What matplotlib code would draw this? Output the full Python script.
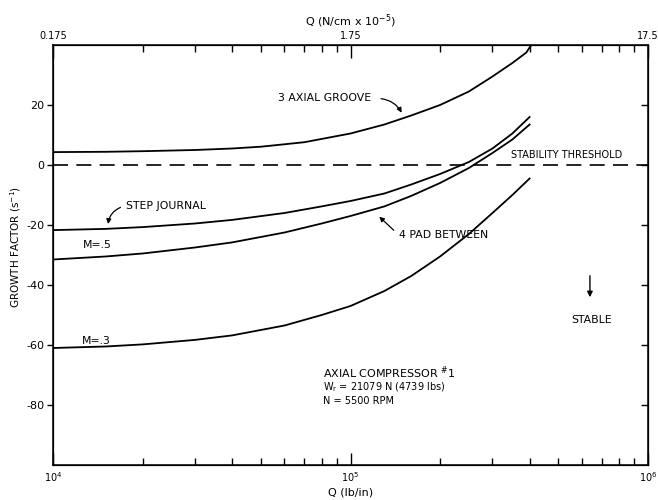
import matplotlib
matplotlib.use("Agg")
import matplotlib.pyplot as plt
from matplotlib.ticker import LogLocator, FixedLocator, NullFormatter, FixedFormatter

# ---- data ----
q_axial = [1.0e4, 1.5e4, 2.0e4, 3.0e4, 4.0e4, 5.0e4, 7.0e4, 1.0e5, 1.3e5, 1.6e5, 2.0e5, 2.5e5, 3.0e5, 3.5e5, 3.9e5, 4.05e5]
g_axial = [4.3, 4.4, 4.6, 5.0, 5.5, 6.1, 7.6, 10.5, 13.5, 16.5, 20.0, 24.5, 29.5, 34.0, 37.5, 40.0]

q_step = [1.0e4, 1.5e4, 2.0e4, 3.0e4, 4.0e4, 6.0e4, 8.0e4, 1.0e5, 1.3e5, 1.6e5, 2.0e5, 2.5e5, 3.0e5, 3.5e5, 4.0e5]
g_step = [-21.7, -21.3, -20.7, -19.5, -18.3, -16.0, -13.8, -12.0, -9.5, -6.5, -3.0, 1.0, 5.5, 10.5, 16.0]

q_m5 = [1.0e4, 1.5e4, 2.0e4, 3.0e4, 4.0e4, 6.0e4, 8.0e4, 1.0e5, 1.3e5, 1.6e5, 2.0e5, 2.5e5, 3.0e5, 3.5e5, 4.0e5]
g_m5 = [-31.5, -30.5, -29.5, -27.5, -25.8, -22.5, -19.5, -17.0, -13.8, -10.3, -6.0, -1.0, 4.0, 8.5, 13.5]

q_m3 = [1.0e4, 1.5e4, 2.0e4, 3.0e4, 4.0e4, 6.0e4, 8.0e4, 1.0e5, 1.3e5, 1.6e5, 2.0e5, 2.5e5, 3.0e5, 3.5e5, 4.0e5]
g_m3 = [-61.0, -60.5, -59.8, -58.3, -56.8, -53.5, -50.0, -47.0, -42.0, -37.0, -30.5, -23.0, -16.0, -10.0, -4.5]

threshold = 0
y_ticks = [-80, -60, -40, -20, 0, 20]
x_major = [1e4, 1e5, 1e6]
x_major_labels = ["10$^4$", "10$^5$", "10$^6$"]
top_labels = ["0.175", "1.75", "17.5"]

plt.rcParams['font.family'] = ['DejaVu Sans']
plt.rcParams['axes.unicode_minus'] = False
fig = plt.figure(figsize=(6.58, 5.0), dpi=100)
ax = fig.add_axes([53/658, 35/500, (648-53)/658, (465-45)/500])

lw = 1.3
ax.plot(q_axial, g_axial, color='black', lw=lw)
ax.plot(q_step, g_step, color='black', lw=lw)
ax.plot(q_m5, g_m5, color='black', lw=lw)
ax.plot(q_m3, g_m3, color='black', lw=lw)
ax.axhline(threshold, color='black', lw=1.2, dashes=(9, 5))

ax.set_xscale('log')
ax.set_xlim(1e4, 1e6)
ax.set_ylim(-100, 40)

# bottom axis
ax.xaxis.set_major_locator(FixedLocator(x_major))
ax.xaxis.set_major_formatter(FixedFormatter(x_major_labels))
ax.xaxis.set_minor_locator(LogLocator(base=10, subs=[2, 3, 4, 5, 6, 7, 8, 9]))
ax.xaxis.set_minor_formatter(NullFormatter())
ax.tick_params(axis='x', which='major', direction='in', length=9, width=1, labelsize=7, pad=4)
ax.tick_params(axis='x', which='minor', direction='in', length=5, width=1)
ax.set_yticks(y_ticks)
ax.tick_params(axis='y', which='major', direction='out', length=4, width=1, labelsize=8, pad=2)
for s in ax.spines.values():
    s.set_linewidth(1.1)

# top axis
axt = ax.twiny()
axt.set_xscale('log')
axt.set_xlim(1e4, 1e6)
axt.xaxis.set_major_locator(FixedLocator(x_major))
axt.xaxis.set_major_formatter(FixedFormatter(top_labels))
axt.xaxis.set_minor_locator(LogLocator(base=10, subs=[2, 3, 4, 5, 6, 7, 8, 9]))
axt.xaxis.set_minor_formatter(NullFormatter())
axt.tick_params(axis='x', which='major', direction='in', length=9, width=1, labelsize=7, pad=3)
axt.tick_params(axis='x', which='minor', direction='in', length=5, width=1)
axt.set_xlabel("Q (N/cm x 10$^{-5}$)", fontsize=8, labelpad=4)

# right axis ticks
axr = ax.twinx()
axr.set_ylim(-100, 40)
axr.set_yticks(y_ticks)
axr.tick_params(axis='y', direction='in', length=5, width=1, labelright=False)

ax.set_xlabel("Q (lb/in)", fontsize=8, labelpad=2)
ax.set_ylabel("GROWTH FACTOR (s$^{-1}$)", fontsize=7.5, labelpad=2)
ax.yaxis.set_label_coords(-0.05, 0.52)

fs = 7.8
arrow_kw = dict(arrowstyle='-|>', color='black', lw=0.9, mutation_scale=7)
ax.text(5.7e4, 22.2, "3 AXIAL GROOVE", fontsize=fs, ha='left', va='center')
ax.annotate("", xy=(1.5e5, 16.6), xytext=(1.24e5, 22.2),
            arrowprops=dict(connectionstyle='arc3,rad=-0.3', **arrow_kw))
ax.text(1.76e4, -13.8, "STEP JOURNAL", fontsize=fs, ha='left', va='center')
ax.annotate("", xy=(1.53e4, -20.6), xytext=(1.72e4, -13.8),
            arrowprops=dict(connectionstyle='arc3,rad=0.35', **arrow_kw))
ax.text(1.26e4, -26.6, "M=.5", fontsize=fs, ha='left', va='center')
ax.text(1.25e4, -58.6, "M=.3", fontsize=fs, ha='left', va='center')
ax.text(1.46e5, -23.4, "4 PAD BETWEEN", fontsize=fs, ha='left', va='center')
ax.annotate("", xy=(1.23e5, -16.6), xytext=(1.42e5, -22.4),
            arrowprops=dict(**arrow_kw))
ax.text(3.45e5, 3.4, "STABILITY THRESHOLD", fontsize=7, ha='left', va='center')
ax.text(5.5e5, -51.8, "STABLE", fontsize=fs, ha='left', va='center')
ax.annotate("", xy=(6.38e5, -45), xytext=(6.38e5, -36),
            arrowprops=dict(arrowstyle='-|>', color='black', lw=1.0, mutation_scale=8))

ax.text(8.1e4, -69.2, r"AXIAL COMPRESSOR $^{\#}$1", fontsize=8, ha='left', va='center')
ax.text(8.1e4, -74.0, r"W$_\mathrm{r}$ = 21079 N (4739 lbs)", fontsize=7, ha='left', va='center')
ax.text(8.1e4, -78.6, "N = 5500 RPM", fontsize=7, ha='left', va='center')

fig.savefig("out.png", dpi=100)
